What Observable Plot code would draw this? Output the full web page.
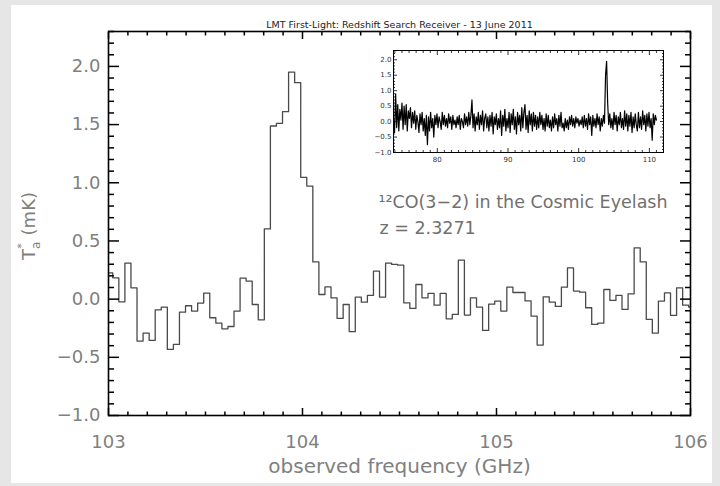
<!DOCTYPE html>
<html><head><meta charset="utf-8">
<script src="https://cdn.jsdelivr.net/npm/d3@7"></script>
<script src="https://cdn.jsdelivr.net/npm/@observablehq/plot@0.6"></script>
<style>
html,body{margin:0;padding:0;background:#e6e6e6;width:720px;height:486px;overflow:hidden}
#panel{position:absolute;left:11px;top:5px;width:701px;height:478px;background:#fff}
#main,#inset{position:absolute}
#main{left:0;top:0}
#inset{left:361px;top:40px}
</style></head><body><div id="panel"><div id="main"></div><div id="inset"></div></div>
<script>
// ---- channel grid of the main spectrum (31.25 MHz channels) ----
const channelStart = 102.99075; // GHz, lower edge of first (partly visible) channel
const channelWidth = 0.03125;   // GHz
// antenna temperature per channel (mK)
const mainValues = [
  0.226, 0.183, -0.023, 0.309, 0.097, -0.360, -0.292, -0.355, -0.092, -0.069,
  -0.432, -0.389, -0.112, -0.057, -0.103, -0.034, 0.051, -0.160, -0.206, -0.255,
  -0.235, -0.103, 0.180, 0.155, -0.046, -0.178, 0.603, 1.488, 1.511, 1.611,
  1.951, 1.860, 1.047, 0.972, 0.320, 0.040, 0.106, 0.011, -0.166, -0.046,
  -0.280, 0.017, -0.026, 0.032, 0.240, 0.017, 0.309, 0.298, 0.292, -0.032,
  -0.080, 0.126, 0.011, 0.049, -0.052, 0.049, -0.169, -0.131, 0.335, -0.137,
  0.011, -0.069, -0.269, -0.043, -0.017, -0.103, 0.103, 0.057, 0.057, -0.015,
  -0.146, -0.395, 0.020, -0.026, -0.063, 0.103, 0.269, 0.069, 0.060, -0.074,
  -0.217, -0.206, 0.083, -0.011, 0.032, -0.088, 0.046, 0.440, 0.320, -0.174,
  -0.292, -0.017, 0.054, -0.140, 0.097, -0.052, -0.069
];
// ---- inset: full band spectrum, sampled every 0.15 GHz ----
const insetStart = 73.8;
const insetStep = 0.15;
const insetValues = [
  0.10, -0.35, 0.90, -0.20, 0.55, -0.30, 0.40, 0.05, 0.60, -0.25,
  0.50, -0.10, 0.55, -0.30, 0.35, 0.10, 0.45, -0.20, 0.30, -0.05,
  0.35, -0.25, 0.20, 0.00, -0.35, 0.25, -0.10, 0.30, -0.30, 0.10,
  -0.45, 0.20, -0.75, 0.15, -0.30, 0.30, -0.20, 0.10, -0.50, 0.20,
  -0.10, 0.25, -0.20, 0.15, 0.00, -0.25, 0.30, -0.10, 0.20, -0.15,
  0.10, -0.20, 0.25, -0.05, 0.15, -0.25, 0.20, -0.10, 0.05, -0.20,
  0.15, -0.10, 0.20, -0.25, 0.10, 0.00, -0.20, 0.25, -0.10, 0.15,
  -0.15, 0.30, -0.10, 0.20, 0.70, -0.20, 0.25, -0.30, 0.15, -0.10,
  0.30, -0.25, 0.20, -0.10, 0.35, -0.30, 0.10, 0.25, -0.20, 0.15,
  -0.30, 0.20, -0.15, 0.30, -0.40, 0.15, -0.10, 0.25, -0.25, 0.10,
  -0.20, 0.35, -0.45, 0.20, -0.15, 0.40, -0.30, 0.10, -0.20, 0.30,
  -0.35, 0.25, -0.10, 0.40, -0.25, 0.15, -0.40, 0.30, -0.10, 0.20,
  -0.30, 0.45, -0.20, 0.30, 0.55, -0.25, 0.20, -0.35, 0.35, -0.10,
  0.25, -0.30, 0.30, -0.15, 0.20, -0.25, 0.15, -0.20, 0.30, -0.10,
  0.20, -0.25, 0.10, -0.30, 0.25, -0.15, 0.20, -0.20, 0.05, -0.30,
  0.15, -0.20, 0.25, -0.10, 0.10, -0.30, 0.20, -0.15, 0.30, -0.20,
  -0.05, -0.30, 0.10, -0.20, 0.05, -0.25, 0.15, -0.10, 0.20, -0.15,
  0.10, -0.20, 0.15, -0.05, 0.10, -0.15, 0.05, -0.10, 0.15, -0.20,
  0.20, -0.15, 0.10, -0.25, 0.25, -0.10, 0.15, -0.45, 0.20, -0.15,
  0.10, -0.20, 0.25, -0.10, 0.15, -0.30, 0.10, -0.15, 0.20, -0.05,
  1.50, 1.95, 0.60, -0.10, 0.25, -0.20, 0.10, -0.25, 0.30, -0.10,
  0.20, -0.30, 0.15, -0.10, 0.30, -0.20, 0.10, -0.25, 0.35, -0.15,
  0.25, -0.30, 0.20, -0.15, 0.30, -0.35, 0.15, -0.20, 0.25, -0.10,
  -0.30, 0.30, -0.20, 0.15, -0.25, 0.35, -0.10, 0.20, -0.30, 0.25,
  -0.15, 0.30, -0.20, 0.10, -0.60, 0.25, -0.10, 0.20, 0.05
];
// ---- ticks and texts ----
const xMajor = [103, 104, 105, 106];
const yMajor = [-1.0, -0.5, 0.0, 0.5, 1.0, 1.5, 2.0];
const insetXMajor = [80, 90, 100, 110];
const insetYMajor = [-1.0, -0.5, 0.0, 0.5, 1.0, 1.5, 2.0];
const titleText = "LMT First-Light: Redshift Search Receiver - 13 June 2011";
const lineText = "¹²CO(3−2) in the Cosmic Eyelash";
const zText = "z = 2.3271";
const xLabelText = "observed frequency (GHz)";

const FONT = "DejaVu Sans, sans-serif";
const fmt = d3.format(".1f");

// main spectrum as step-after line on channel edges
const mainData = mainValues.map((v, i) => ({f: channelStart + i * channelWidth, v}));
mainData.push({f: channelStart + mainValues.length * channelWidth, v: mainValues[mainValues.length - 1]});
const insetData = insetValues.map((v, i) => ({f: insetStart + i * insetStep, v}));

const xMinor = d3.range(1030, 1061).map(d => d / 10).filter(d => !xMajor.includes(d));
const yMinor = d3.range(-10, 24).map(d => d / 10).filter(d => !yMajor.includes(d));
const ixMinor = d3.range(74, 113).filter(d => !insetXMajor.includes(d));
const iyMinor = d3.range(-10, 24).map(d => d / 10).filter(d => !insetYMajor.includes(d));

const tk = {stroke: "#000", strokeWidth: 1.5, fill: "none", label: null};
const main = Plot.plot({
  width: 701, height: 478,
  marginLeft: 97, marginRight: 22, marginTop: 26, marginBottom: 68,
  style: {fontFamily: FONT, background: "transparent", overflow: "visible"},
  x: {domain: [103, 106]},
  y: {domain: [-1.0, 2.3]},
  marks: [
    Plot.line(mainData, {x: "f", y: "v", curve: "step-after", stroke: "#4a4a4a", strokeWidth: 1.3, clip: true}),
    Plot.frame({stroke: "#000", strokeWidth: 1.6}),
    Plot.axisY({...tk, anchor: "left", ticks: yMajor, tickSize: -11}),
    Plot.axisY({...tk, anchor: "left", ticks: yMinor, tickSize: -6}),
    Plot.axisY({...tk, anchor: "right", ticks: yMajor, tickSize: -11}),
    Plot.axisY({...tk, anchor: "right", ticks: yMinor, tickSize: -6}),
    Plot.axisX({...tk, anchor: "bottom", ticks: xMajor, tickSize: -7}),
    Plot.axisX({...tk, anchor: "bottom", ticks: xMinor, tickSize: -3.5}),
    Plot.axisX({...tk, anchor: "top", ticks: xMajor, tickSize: -7}),
    Plot.axisX({...tk, anchor: "top", ticks: xMinor, tickSize: -3.5}),
    Plot.axisY({anchor: "left", ticks: yMajor, tickSize: 0, tickPadding: 8, tickFormat: fmt, fontSize: 18, fill: "#808080", label: null}),
    Plot.axisX({anchor: "bottom", ticks: xMajor, tickSize: 0, tickPadding: 20, tickFormat: d => String(d), fontSize: 18, fill: "#808080", label: null}),
    Plot.text([xLabelText], {text: d => d, frameAnchor: "bottom", lineAnchor: "middle", dy: 51, fontSize: 20, fill: "#808080"}),
    Plot.text([titleText], {text: d => d, frameAnchor: "top", lineAnchor: "middle", dy: -6.5, fontSize: 9.5, fill: "#222"}),
    Plot.text([lineText], {text: d => d, frameAnchor: "top-left", textAnchor: "start", lineAnchor: "middle", dx: 270, dy: 171, fontSize: 17.5, fill: "#707070"}),
    Plot.text([zText], {text: d => d, frameAnchor: "top-left", textAnchor: "start", lineAnchor: "middle", dx: 271, dy: 197, fontSize: 17.5, fill: "#707070"})
  ]
});
document.getElementById("main").appendChild(main);

// y-axis label with stacked sub/superscript
const yl = d3.select(main).append("text")
  .attr("transform", "translate(24,221) rotate(-90)")
  .attr("text-anchor", "middle")
  .attr("font-family", FONT).attr("font-size", 18).attr("fill", "#808080");
yl.append("tspan").text("T");
yl.append("tspan").attr("dy", 5).attr("font-size", 12).text("a");
yl.append("tspan").attr("dx", -7).attr("dy", -15).attr("font-size", 11).text("*");
yl.append("tspan").attr("dy", 10).attr("dx", 2).text(" (mK)");

const itk = {stroke: "#000", strokeWidth: 0.8, fill: "none", label: null};
const inset = Plot.plot({
  width: 300, height: 122,
  marginLeft: 21, marginRight: 9, marginTop: 5, marginBottom: 15,
  style: {fontFamily: FONT, background: "transparent", overflow: "visible"},
  x: {domain: [73.8, 112.0]},
  y: {domain: [-1.0, 2.3]},
  marks: [
    Plot.line(insetData, {x: "f", y: "v", stroke: "#000", strokeWidth: 1.2, clip: true}),
    Plot.frame({stroke: "#000", strokeWidth: 1}),
    Plot.axisY({...itk, anchor: "left", ticks: insetYMajor, tickSize: -4}),
    Plot.axisY({...itk, anchor: "left", ticks: iyMinor, tickSize: -2}),
    Plot.axisY({...itk, anchor: "right", ticks: insetYMajor, tickSize: -4}),
    Plot.axisY({...itk, anchor: "right", ticks: iyMinor, tickSize: -2}),
    Plot.axisX({...itk, anchor: "bottom", ticks: insetXMajor, tickSize: -4}),
    Plot.axisX({...itk, anchor: "bottom", ticks: ixMinor, tickSize: -2}),
    Plot.axisX({...itk, anchor: "top", ticks: insetXMajor, tickSize: -4}),
    Plot.axisX({...itk, anchor: "top", ticks: ixMinor, tickSize: -2}),
    Plot.axisY({anchor: "left", ticks: insetYMajor, tickSize: 0, tickPadding: 2, tickFormat: fmt, fontSize: 7, fill: "#333", label: null}),
    Plot.axisX({anchor: "bottom", ticks: insetXMajor, tickSize: 0, tickPadding: 5, tickFormat: d => String(d), fontSize: 7, fill: "#333", label: null})
  ]
});
document.getElementById("inset").appendChild(inset);
</script></body></html>
